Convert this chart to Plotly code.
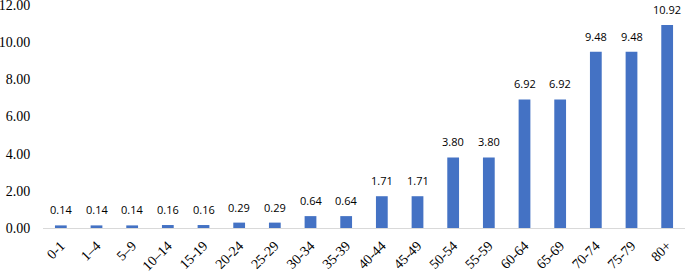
import plotly.graph_objects as go

categories = ["0-1", "1–4", "5–9", "10–14", "15-19", "20-24", "25-29", "30-34", "35-39",
              "40-44", "45-49", "50-54", "55-59", "60-64", "65-69", "70-74", "75-79", "80+"]
values = [0.14, 0.14, 0.14, 0.16, 0.16, 0.29, 0.29, 0.64, 0.64,
          1.71, 1.71, 3.80, 3.80, 6.92, 6.92, 9.48, 9.48, 10.92]
y_ticks = [0, 2, 4, 6, 8, 10, 12]

SERIF = "Liberation Serif"

fig = go.Figure(go.Bar(
    x=categories, y=values,
    marker=dict(color="#4472C4", line=dict(width=0)),
    width=0.33,
    hoverinfo="x+y",
))

for c, v in zip(categories, values):
    fig.add_annotation(
        x=c, y=v, text=f"{v:.2f}", showarrow=False,
        yanchor="bottom", yshift=6,
        font=dict(family="Open Sans", size=11, color="#000000"),
    )

fig.update_layout(
    width=685, height=271,
    margin=dict(l=43, r=0, t=4, b=43),
    plot_bgcolor="white", paper_bgcolor="white",
    showlegend=False,
    xaxis=dict(
        tickangle=-45,
        tickfont=dict(family=SERIF, size=14, color="#000"),
        showline=True, linecolor="#D9D9D9", linewidth=1,
        showgrid=False, ticks="outside", ticklen=3, tickcolor="rgba(0,0,0,0)",
        automargin=False,
    ),
    yaxis=dict(
        range=[0, 12.054],
        tickvals=y_ticks,
        ticktext=[f"{t:.2f}" for t in y_ticks],
        tickfont=dict(family=SERIF, size=14, color="#000"),
        showgrid=False, zeroline=False, showline=False,
        ticks="outside", ticklen=9, tickcolor="rgba(0,0,0,0)",
        automargin=False, ticklabeloverflow="allow",
    ),
)

fig.write_html("out.html", config={"displayModeBar": False},
               post_script="document.body.style.margin='0';")
